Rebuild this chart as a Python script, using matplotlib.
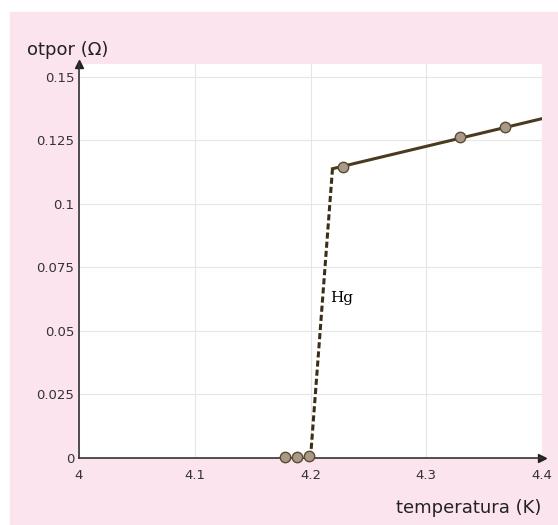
import matplotlib.pyplot as plt
from matplotlib.patches import Rectangle

# measured points (temperature in K, resistance in ohm)
temp_points = [4.178, 4.188, 4.199, 4.228, 4.329, 4.368]
res_points = [0.0005, 0.0005, 0.0008, 0.1146, 0.1264, 0.1303]

# transition (dashed) and normal-state (solid) curve
temp_dash = [4.200, 4.219]
res_dash = [0.0, 0.1138]
temp_solid = [4.219, 4.400]
res_solid = [0.1138, 0.1335]

x_ticks = [4.0, 4.1, 4.2, 4.3, 4.4]
x_labels = ["4", "4.1", "4.2", "4.3", "4.4"]
y_ticks = [0, 0.025, 0.05, 0.075, 0.1, 0.125, 0.15]
y_labels = ["0", "0.025", "0.05", "0.075", "0.1", "0.125", "0.15"]

fig = plt.figure(figsize=(5.58, 5.25), dpi=100)
fig.patches.append(Rectangle((10 / 558, 0), 1, 1 - 12 / 525,
                             transform=fig.transFigure, color="#fce4ee", zorder=-10))

ax = fig.add_axes([79 / 558, 1 - 458 / 525, (542 - 79) / 558, (458 - 64) / 525])
ax.set_facecolor("white")
ax.set_xlim(4.0, 4.4)
ax.set_ylim(0, 0.155)

ax.grid(True, color="#e6e6e6", lw=0.8)
ax.set_axisbelow(True)
for s in ["top", "right"]:
    ax.spines[s].set_visible(False)
for s in ["left", "bottom"]:
    ax.spines[s].set_color("#333333")
    ax.spines[s].set_linewidth(1.2)

# arrows at axis ends
ax.plot(1, 0, ">", transform=ax.transAxes, color="#222222", ms=6, clip_on=False)
ax.plot(0, 1, "^", transform=ax.transAxes, color="#222222", ms=6, clip_on=False)

ax.set_xticks(x_ticks)
ax.set_xticklabels(x_labels)
ax.set_yticks(y_ticks)
ax.set_yticklabels(y_labels)
ax.tick_params(length=0, labelsize=9.5, labelcolor="#333333")
ax.tick_params(axis="x", pad=8)

ax.plot(temp_dash, res_dash, color="#3a2e18", lw=2.2, ls=(0, (2, 1)), zorder=3)
ax.plot(temp_solid, res_solid, color="#4a3b20", lw=2.2, zorder=3)
ax.plot(temp_points, res_points, "o", ms=7.5, mfc="#a89a88", mec="#5a4a30",
        mew=1, zorder=4, clip_on=False)

ax.text(4.217, 0.0629, "Hg", fontsize=11, family="DejaVu Serif", va="center")

fig.text(27 / 558, 1 - 50 / 525, "otpor (\u03a9)", fontsize=13, color="#222222",
         va="center")
fig.text(541 / 558, 1 - 508 / 525, "temperatura (K)", fontsize=13, color="#222222",
         va="center", ha="right")

fig.savefig("out.png", dpi=100)
